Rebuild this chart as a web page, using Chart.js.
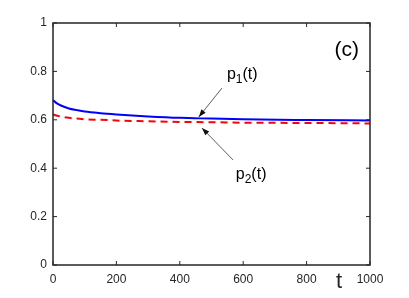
<!DOCTYPE html>
<html>
<head>
<meta charset="utf-8">
<script src="https://cdn.jsdelivr.net/npm/chart.js@4"></script>
<style>
  html, body { margin: 0; padding: 0; background: #fff; }
  #wrap { width: 409px; height: 298px; }
</style>
</head>
<body>
<div id="wrap"><canvas id="grafica"></canvas></div>
<script>
// datos
var tiempos = [0, 10, 25, 50, 75, 100, 150, 200, 300, 400, 500, 600, 800, 1000];
var p1 = [0.682, 0.670, 0.659, 0.647, 0.640, 0.634, 0.627, 0.622, 0.614, 0.608, 0.605, 0.602, 0.599, 0.597];
var p2 = [0.622, 0.618, 0.613, 0.608, 0.605, 0.602, 0.600, 0.597, 0.594, 0.591, 0.590, 0.588, 0.587, 0.585];
var ticksX = [0, 200, 400, 600, 800, 1000];
var ticksY = [0, 0.2, 0.4, 0.6, 0.8, 1];

// anotaciones en unidades de datos
var notas = [
  { texto: 'p', sub: '1', cola: '(t)', x: 597, y: 0.785, flecha: [533, 0.731, 460, 0.612] },
  { texto: 'p', sub: '2', cola: '(t)', x: 625, y: 0.372, flecha: [568, 0.434, 470, 0.566] }
];

var color = '#262626';
var fuente = '"Liberation Sans", Arial, sans-serif';

function puntos(ys) {
  return tiempos.map(function(t, i) { return { x: t, y: ys[i] }; });
}

// plugin para caja, ticks hacia adentro y textos
var extras = {
  id: 'extras',
  afterDraw: function(chart) {
    var c = chart.ctx, a = chart.chartArea;
    var sx = chart.scales.x, sy = chart.scales.y;
    c.save();
    c.strokeStyle = color;
    c.lineWidth = 1.5;
    c.strokeRect(a.left, a.top, a.right - a.left, a.bottom - a.top);
    c.lineWidth = 1;
    ticksX.forEach(function(v) {
      var px = sx.getPixelForValue(v);
      c.beginPath();
      c.moveTo(px, a.bottom); c.lineTo(px, a.bottom - 4);
      c.moveTo(px, a.top); c.lineTo(px, a.top + 4);
      c.stroke();
    });
    ticksY.forEach(function(v) {
      var py = sy.getPixelForValue(v);
      c.beginPath();
      c.moveTo(a.left, py); c.lineTo(a.left + 4, py);
      c.moveTo(a.right, py); c.lineTo(a.right - 4, py);
      c.stroke();
    });

    // (c)
    c.fillStyle = '#000';
    c.font = '21px ' + fuente;
    c.textAlign = 'center';
    c.textBaseline = 'middle';
    c.fillText('(c)', sx.getPixelForValue(927), sy.getPixelForValue(0.888));

    // etiqueta t
    c.font = '22px ' + fuente;
    c.fillStyle = color;
    c.fillText('t', sx.getPixelForValue(902), sy.getPixelForValue(-0.07));

    // p1(t), p2(t) con flechas
    notas.forEach(function(n) {
      var px = sx.getPixelForValue(n.x), py = sy.getPixelForValue(n.y);
      c.fillStyle = '#000';
      c.textAlign = 'left';
      c.textBaseline = 'middle';
      c.font = '16px ' + fuente;
      var w1 = c.measureText(n.texto).width;
      c.font = '12px ' + fuente;
      var w2 = c.measureText(n.sub).width;
      c.font = '16px ' + fuente;
      var w3 = c.measureText(n.cola).width;
      var x0 = px - (w1 + w2 + w3) / 2;
      c.fillText(n.texto, x0, py);
      c.font = '12px ' + fuente;
      c.fillText(n.sub, x0 + w1, py + 5);
      c.font = '16px ' + fuente;
      c.fillText(n.cola, x0 + w1 + w2, py);

      var x1 = sx.getPixelForValue(n.flecha[0]), y1 = sy.getPixelForValue(n.flecha[1]);
      var x2 = sx.getPixelForValue(n.flecha[2]), y2 = sy.getPixelForValue(n.flecha[3]);
      var ang = Math.atan2(y2 - y1, x2 - x1);
      c.strokeStyle = '#333';
      c.lineWidth = 0.8;
      c.beginPath();
      c.moveTo(x1, y1); c.lineTo(x2, y2);
      c.stroke();
      c.fillStyle = '#111';
      c.beginPath();
      c.moveTo(x2, y2);
      c.lineTo(x2 - 8 * Math.cos(ang - 0.35), y2 - 8 * Math.sin(ang - 0.35));
      c.lineTo(x2 - 8 * Math.cos(ang + 0.35), y2 - 8 * Math.sin(ang + 0.35));
      c.closePath();
      c.fill();
    });
    c.restore();
  }
};

var ctx = document.getElementById('grafica').getContext('2d');
var grafica = new Chart(ctx, {
  type: 'line',
  data: {
    datasets: [{
      label: 'p1(t)',
      data: puntos(p1),
      borderColor: 'rgb(0, 0, 255)',
      borderWidth: 2,
      pointRadius: 0,
      cubicInterpolationMode: 'monotone'
    }, {
      label: 'p2(t)',
      data: puntos(p2),
      borderColor: 'rgb(255, 0, 0)',
      borderWidth: 2,
      borderDash: [7, 5],
      pointRadius: 0,
      cubicInterpolationMode: 'monotone'
    }]
  },
  options: {
    responsive: true,
    maintainAspectRatio: false,
    animation: false,
    layout: { padding: { top: 23, right: 39, left: 0, bottom: 0 } },
    plugins: { legend: { display: false }, tooltip: { enabled: false } },
    scales: {
      x: {
        type: 'linear',
        min: 0, max: 1000,
        afterFit: function(s) { s.height = 33; },
        afterBuildTicks: function(s) { s.ticks = ticksX.map(function(v) { return { value: v }; }); },
        grid: { display: false, drawTicks: false },
        border: { display: false },
        ticks: { color: color, font: { family: fuente, size: 12 }, padding: 7, maxRotation: 0,
          callback: function(v) { return String(v); } }
      },
      y: {
        min: 0, max: 1,
        afterFit: function(s) { s.width = 53; },
        afterBuildTicks: function(s) { s.ticks = ticksY.map(function(v) { return { value: v }; }); },
        grid: { display: false, drawTicks: false },
        border: { display: false },
        ticks: { color: color, font: { family: fuente, size: 12 }, padding: 6,
          callback: function(v) { return String(Math.round(v * 10) / 10); } }
      }
    }
  },
  plugins: [extras]
});
</script>
</body>
</html>
